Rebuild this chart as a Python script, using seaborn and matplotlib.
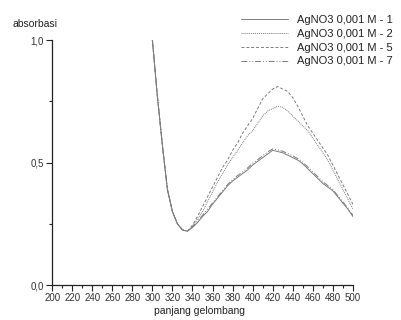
import numpy as np
import pandas as pd
import matplotlib
matplotlib.use('Agg')
import matplotlib.pyplot as plt
import seaborn as sns
from matplotlib.ticker import MultipleLocator, FixedLocator, FixedFormatter

# wavelength grid (nm)
wavelength = list(range(300, 505, 5))

# shared steep descent 300..335 nm
descent = [1.00, 0.77, 0.57, 0.39, 0.30, 0.25, 0.225, 0.22]

m1 = descent + [0.235, 0.255, 0.28, 0.30, 0.33, 0.355, 0.38, 0.405, 0.425, 0.44,
                0.455, 0.47, 0.49, 0.505, 0.52, 0.535, 0.55, 0.545, 0.54, 0.53,
                0.52, 0.51, 0.495, 0.475, 0.455, 0.435, 0.415, 0.40, 0.385, 0.36,
                0.335, 0.31, 0.28]
m2 = descent + [0.24, 0.27, 0.30, 0.34, 0.38, 0.42, 0.455, 0.49, 0.52, 0.55,
                0.58, 0.61, 0.63, 0.66, 0.69, 0.71, 0.72, 0.73, 0.725, 0.71,
                0.69, 0.67, 0.65, 0.63, 0.60, 0.57, 0.54, 0.51, 0.47, 0.43,
                0.39, 0.35, 0.31]
m5 = descent + [0.245, 0.28, 0.32, 0.36, 0.40, 0.44, 0.48, 0.51, 0.55, 0.58,
                0.62, 0.65, 0.68, 0.72, 0.76, 0.78, 0.80, 0.81, 0.80, 0.79,
                0.765, 0.73, 0.69, 0.65, 0.62, 0.59, 0.56, 0.53, 0.49, 0.45,
                0.41, 0.37, 0.33]
m7 = descent + [0.238, 0.26, 0.285, 0.31, 0.335, 0.36, 0.385, 0.41, 0.43, 0.447,
                0.462, 0.478, 0.497, 0.512, 0.528, 0.543, 0.556, 0.552, 0.546, 0.537,
                0.527, 0.516, 0.502, 0.482, 0.462, 0.442, 0.422, 0.406, 0.39, 0.365,
                0.34, 0.314, 0.285]

labels = ['AgNO3 0,001 M - 1', 'AgNO3 0,001 M - 2',
          'AgNO3 0,001 M - 5', 'AgNO3 0,001 M - 7']

df = pd.concat([
    pd.DataFrame({'nm': wavelength, 'abs': vals, 'sampel': lab})
    for lab, vals in zip(labels, [m1, m2, m5, m7])
])

sns.set_style('ticks')
plt.rcParams['font.family'] = ['Liberation Sans', 'DejaVu Sans']

line_col = '#7c7c7c'
fig = plt.figure(figsize=(4.01, 3.2), dpi=100)
ax = fig.add_axes([0.130, 0.109, 0.750, 0.766])

dash_list = ['', (1, 1), (3, 2), (6, 2, 1, 2, 1, 2)]
dashes = dict(zip(labels, dash_list))
sns.lineplot(data=df, x='nm', y='abs', hue='sampel', style='sampel',
             palette=[line_col] * 4, dashes=dashes, linewidth=0.7, ax=ax, legend=False)

ax.set_xlim(200, 500)
ax.set_ylim(0, 1.0)
ax.xaxis.set_major_locator(MultipleLocator(20))
ax.xaxis.set_minor_locator(MultipleLocator(10))
ax.yaxis.set_major_locator(FixedLocator([0, 0.5, 1.0]))
ax.yaxis.set_major_formatter(FixedFormatter(['0,0', '0,5', '1,0']))
ax.yaxis.set_minor_locator(FixedLocator([0.25, 0.75]))
ax.tick_params(axis='both', which='major', labelsize=7, length=4, width=0.8,
               colors='#222222', labelcolor='#333333', pad=2)
ax.tick_params(axis='both', which='minor', length=2.5, width=0.8, colors='#222222')
for s in ['top', 'right']:
    ax.spines[s].set_visible(False)
for s in ['left', 'bottom']:
    ax.spines[s].set_linewidth(0.9)
    ax.spines[s].set_color('#222222')

ax.set_xlabel('panjang gelombang', fontsize=7.5, color='#222222')
ax.xaxis.set_label_coords(0.49, -0.085)
ax.set_ylabel('')
fig.text(0.03, 0.915, 'absorbasi', fontsize=7.5, color='#222222')

handles = [plt.Line2D([], [], color=line_col, linewidth=0.7)]
handles += [plt.Line2D([], [], color=line_col, linewidth=0.7, dashes=d) for d in dash_list[1:]]
fig.legend(handles, labels, loc='upper right', bbox_to_anchor=(1.005, 0.985),
           frameon=False, fontsize=8, handlelength=4.3, labelspacing=0.35,
           handletextpad=0.8, labelcolor='#222222')

fig.savefig('out.png', dpi=100, facecolor='white')
